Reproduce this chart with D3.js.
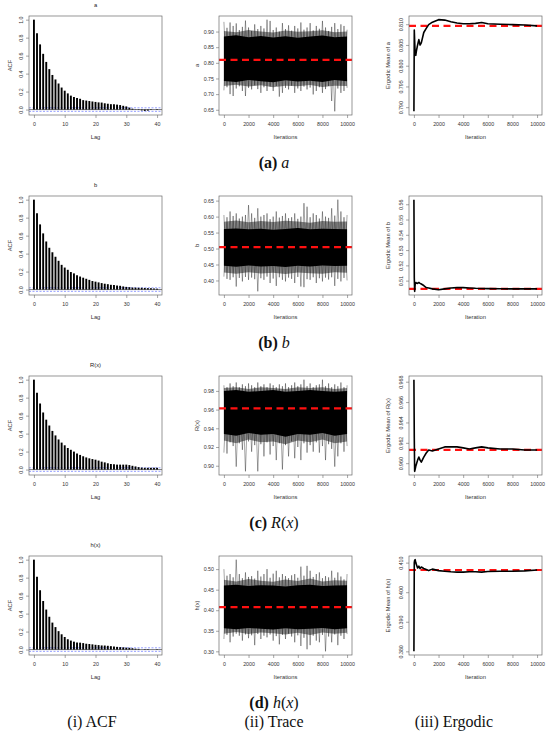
<!DOCTYPE html>
<html>
<head>
<meta charset="utf-8">
<script src="https://cdn.jsdelivr.net/npm/d3@7"></script>
<style>
  body { margin: 0; background: #fff; }
  svg { display: block; }
</style>
</head>
<body>
<div id="chart"></div>
<script>
// ---- data ----
const paramNames = ['a', 'b', 'R(x)', 'h(x)'];
const lags = d3.range(0, 41);

const acfA = [1.0, 0.85, 0.725, 0.62, 0.53, 0.45, 0.385, 0.335, 0.29, 0.245, 0.21, 0.18, 0.155, 0.14, 0.13, 0.12, 0.105, 0.10, 0.095, 0.09, 0.085,
  0.08, 0.078, 0.07, 0.065, 0.06, 0.058, 0.055, 0.05, 0.042, 0.035, 0.022, 0.01, 0.003, -0.005, -0.01, -0.015, -0.012, -0.005, 0.0, 0.005];
const acfB = [1.0, 0.85, 0.725, 0.625, 0.535, 0.465, 0.415, 0.365, 0.32, 0.275, 0.245, 0.22, 0.195, 0.18, 0.16, 0.145, 0.132, 0.12, 0.108, 0.095, 0.088,
  0.08, 0.072, 0.065, 0.06, 0.053, 0.05, 0.045, 0.042, 0.035, 0.03, 0.027, 0.023, 0.022, 0.02, 0.02, 0.018, 0.016, 0.015, 0.012, 0.01];
const acfR = [1.0, 0.855, 0.735, 0.635, 0.555, 0.49, 0.43, 0.38, 0.335, 0.3, 0.27, 0.24, 0.22, 0.2, 0.18, 0.163, 0.148, 0.135, 0.125, 0.117, 0.11,
  0.1, 0.088, 0.08, 0.07, 0.062, 0.058, 0.055, 0.055, 0.055, 0.055, 0.05, 0.042, 0.035, 0.027, 0.022, 0.02, 0.02, 0.02, 0.02, 0.02];
const acfH = [1.0, 0.81, 0.66, 0.54, 0.445, 0.365, 0.3, 0.25, 0.205, 0.17, 0.14, 0.115, 0.1, 0.088, 0.08, 0.077, 0.072, 0.065, 0.062, 0.058, 0.053,
  0.05, 0.046, 0.045, 0.042, 0.038, 0.035, 0.03, 0.027, 0.025, 0.022, 0.02, 0.015, 0.01, 0.008, 0.0, -0.005, -0.005, 0.0, 0.0, 0.004];
const acfCI = 0.0196;

// trace: extremes every 250 iterations; grey fringe and dense core every 1000
const traceIter = d3.range(0, 10001, 250);
const bandIter = d3.range(0, 10001, 1000);

const hiA = [0.931, 0.912, 0.929, 0.918, 0.926, 0.905, 0.915, 0.935, 0.913, 0.902, 0.923, 0.908, 0.918, 0.910, 0.938, 0.934, 0.905, 0.913, 0.900, 0.927,
  0.908, 0.920, 0.903, 0.918, 0.910, 0.929, 0.906, 0.913, 0.927, 0.904, 0.918, 0.909, 0.934, 0.913, 0.902, 0.915, 0.927, 0.908, 0.923, 0.918, 0.906];
const loA = [0.712, 0.722, 0.700, 0.694, 0.718, 0.725, 0.710, 0.694, 0.720, 0.715, 0.728, 0.716, 0.704, 0.722, 0.710, 0.724, 0.710, 0.726, 0.692, 0.704,
  0.720, 0.715, 0.727, 0.704, 0.718, 0.710, 0.724, 0.715, 0.721, 0.699, 0.710, 0.722, 0.704, 0.716, 0.726, 0.678, 0.645, 0.718, 0.704, 0.710, 0.720];
const fringeHiA = [0.902, 0.898, 0.905, 0.900, 0.897, 0.903, 0.899, 0.901, 0.904, 0.898, 0.900];
const fringeLoA = [0.726, 0.730, 0.724, 0.728, 0.722, 0.727, 0.725, 0.729, 0.723, 0.727, 0.726];
const coreHiA = [0.884, 0.888, 0.882, 0.886, 0.881, 0.885, 0.880, 0.884, 0.887, 0.882, 0.884];
const coreLoA = [0.742, 0.739, 0.745, 0.741, 0.738, 0.744, 0.740, 0.743, 0.739, 0.745, 0.741];

const hiB = [0.605, 0.598, 0.616, 0.602, 0.610, 0.594, 0.600, 0.605, 0.636, 0.610, 0.596, 0.626, 0.600, 0.605, 0.610, 0.592, 0.600, 0.616, 0.597, 0.602,
  0.610, 0.595, 0.598, 0.610, 0.593, 0.600, 0.642, 0.631, 0.598, 0.610, 0.605, 0.594, 0.616, 0.600, 0.596, 0.626, 0.603, 0.653, 0.616, 0.598, 0.605];
const loB = [0.412, 0.405, 0.402, 0.410, 0.381, 0.408, 0.397, 0.411, 0.402, 0.409, 0.404, 0.366, 0.407, 0.402, 0.412, 0.392, 0.406, 0.383, 0.410, 0.402,
  0.397, 0.409, 0.405, 0.392, 0.411, 0.381, 0.379, 0.404, 0.402, 0.410, 0.392, 0.407, 0.397, 0.409, 0.403, 0.410, 0.383, 0.405, 0.397, 0.408, 0.400];
const fringeHiB = [0.584, 0.588, 0.582, 0.586, 0.583, 0.587, 0.585, 0.581, 0.586, 0.584, 0.585];
const fringeLoB = [0.425, 0.421, 0.426, 0.422, 0.424, 0.420, 0.425, 0.423, 0.421, 0.426, 0.424];
const coreHiB = [0.561, 0.563, 0.560, 0.562, 0.559, 0.561, 0.564, 0.560, 0.562, 0.561, 0.560];
const coreLoB = [0.446, 0.443, 0.447, 0.444, 0.445, 0.442, 0.446, 0.444, 0.447, 0.445, 0.446];

const hiR = [0.986, 0.984, 0.988, 0.985, 0.989, 0.984, 0.987, 0.985, 0.988, 0.986, 0.984, 0.989, 0.985, 0.987, 0.984, 0.988, 0.986, 0.984, 0.987, 0.985,
  0.988, 0.984, 0.986, 0.989, 0.985, 0.987, 0.992, 0.985, 0.988, 0.984, 0.986, 0.987, 0.992, 0.985, 0.988, 0.984, 0.987, 0.985, 0.989, 0.984, 0.986];
const loR = [0.914, 0.913, 0.925, 0.921, 0.899, 0.924, 0.917, 0.894, 0.926, 0.915, 0.922, 0.894, 0.923, 0.910, 0.925, 0.912, 0.921, 0.906, 0.924, 0.896,
  0.922, 0.910, 0.926, 0.908, 0.920, 0.906, 0.924, 0.914, 0.922, 0.915, 0.925, 0.914, 0.921, 0.906, 0.923, 0.918, 0.899, 0.910, 0.924, 0.915, 0.921];
const fringeHiR = [0.983, 0.984, 0.982, 0.984, 0.983, 0.982, 0.984, 0.983, 0.984, 0.982, 0.983];
const fringeLoR = [0.927, 0.924, 0.928, 0.925, 0.926, 0.923, 0.927, 0.925, 0.928, 0.924, 0.926];
const coreHiR = [0.980, 0.981, 0.979, 0.980, 0.981, 0.979, 0.980, 0.981, 0.980, 0.979, 0.980];
const coreLoR = [0.934, 0.932, 0.935, 0.933, 0.934, 0.931, 0.934, 0.933, 0.935, 0.932, 0.934];

const hiH = [0.500, 0.484, 0.488, 0.480, 0.523, 0.488, 0.478, 0.492, 0.481, 0.483, 0.477, 0.496, 0.482, 0.488, 0.500, 0.479, 0.489, 0.496, 0.480, 0.488,
  0.483, 0.478, 0.485, 0.488, 0.479, 0.506, 0.484, 0.508, 0.496, 0.481, 0.488, 0.492, 0.478, 0.483, 0.480, 0.496, 0.479, 0.492, 0.482, 0.475, 0.488];
const loH = [0.330, 0.340, 0.322, 0.336, 0.343, 0.338, 0.326, 0.341, 0.332, 0.339, 0.315, 0.342, 0.330, 0.338, 0.334, 0.341, 0.326, 0.337, 0.317, 0.340,
  0.330, 0.343, 0.336, 0.322, 0.339, 0.313, 0.333, 0.305, 0.315, 0.338, 0.326, 0.322, 0.340, 0.300, 0.336, 0.322, 0.341, 0.315, 0.338, 0.330, 0.342];
const fringeHiH = [0.474, 0.470, 0.476, 0.472, 0.469, 0.475, 0.471, 0.477, 0.470, 0.473, 0.472];
const fringeLoH = [0.343, 0.347, 0.342, 0.346, 0.344, 0.341, 0.345, 0.340, 0.346, 0.343, 0.345];
const coreHiH = [0.460, 0.462, 0.459, 0.461, 0.460, 0.458, 0.461, 0.462, 0.459, 0.460, 0.461];
const coreLoH = [0.356, 0.354, 0.357, 0.355, 0.353, 0.356, 0.354, 0.355, 0.357, 0.354, 0.356];

// posterior means (red dashed lines)
const means = [0.8096, 0.5046, 0.9613, 0.4075];

// ergodic (running) means
const ergoIter = [1, 30, 60, 100, 150, 200, 300, 400, 500, 600, 800, 1000, 1200, 1500, 2000, 2500, 3000, 3500, 4000, 4500, 5000, 5500, 6000, 7000, 8000, 9000, 10000];
const ergoA = [0.789, 0.8086, 0.806, 0.803, 0.8025, 0.8035, 0.805, 0.8063, 0.805, 0.8055, 0.808, 0.809, 0.8099, 0.8105, 0.8111, 0.8110, 0.8106,
  0.8103, 0.8101, 0.8101, 0.8102, 0.8104, 0.8101, 0.8100, 0.8099, 0.8098, 0.8096];
const ergoB = [0.563, 0.512, 0.503, 0.5075, 0.5088, 0.5085, 0.5082, 0.5088, 0.5082, 0.5078, 0.5068, 0.5055, 0.5052, 0.5046, 0.5040, 0.5046, 0.5052,
  0.5054, 0.5054, 0.5052, 0.5050, 0.5049, 0.5048, 0.5047, 0.5046, 0.5046, 0.5046];
const ergoR = [0.9682, 0.9625, 0.9592, 0.9594, 0.9597, 0.9599, 0.9603, 0.9606, 0.9603, 0.9601, 0.9606, 0.9610, 0.9613, 0.9612, 0.9614, 0.9616,
  0.9616, 0.9616, 0.9615, 0.9614, 0.9615, 0.9616, 0.9615, 0.9614, 0.9614, 0.9613, 0.9613];
const ergoH = [0.380, 0.4100, 0.4108, 0.4110, 0.4100, 0.4094, 0.4082, 0.4088, 0.4080, 0.4085, 0.4080, 0.4077, 0.4073, 0.4078, 0.4073, 0.4071,
  0.4069, 0.4068, 0.4068, 0.4069, 0.4069, 0.4068, 0.4070, 0.4071, 0.4071, 0.4072, 0.4075];

// tick values
const acfXTicks = [0, 10, 20, 30, 40];
const acfYTicks = [0, 0.2, 0.4, 0.6, 0.8, 1.0];
const iterTicks = [0, 2000, 4000, 6000, 8000, 10000];
const traceYTicks = [
  [0.65, 0.70, 0.75, 0.80, 0.85, 0.90],
  [0.40, 0.45, 0.50, 0.55, 0.60, 0.65],
  [0.90, 0.92, 0.94, 0.96, 0.98],
  [0.30, 0.35, 0.40, 0.45, 0.50]
];
const ergoYTicks = [
  [0.790, 0.795, 0.800, 0.805, 0.810],
  [0.51, 0.52, 0.53, 0.54, 0.55, 0.56],
  [0.960, 0.962, 0.964, 0.966, 0.968],
  [0.380, 0.390, 0.400, 0.410]
];
const ergoYFmt = ['.3f', '.2f', '.3f', '.3f'];

const captionLetters = ['a', 'b', 'c', 'd'];
const columnLabels = [['i', 'ACF'], ['ii', 'Trace'], ['iii', 'Ergodic']];

// ---- layout ----
const width = 550, height = 733;
const rowH = 180;
const boxY = [16, 115];
const colX = { acf: [29, 162], trace: [219, 352], ergo: [409, 542] };
const sans = '"Liberation Sans", Arial, sans-serif';
const serif = '"Liberation Serif", "DejaVu Serif", serif';
const tickFont = 5.3, titleFont = 5.8;
const inkColor = '#333333', frameColor = '#6a6a6a';

const svg = d3.select('#chart').append('svg')
  .attr('width', width).attr('height', height);

const padExtent = ext => {
  const r = ext[1] - ext[0];
  return [ext[0] - 0.04 * r, ext[1] + 0.04 * r];
};

function drawFrame(g, x, y, opt) {
  const [x0, x1] = x.range();
  const [yb, yt] = y.range();

  const xa = g.append('g')
    .attr('transform', `translate(0,${yb})`)
    .call(d3.axisBottom(x).tickValues(opt.xTicks).tickFormat(d3.format('d')).tickSize(3).tickPadding(4.5));
  const ya = g.append('g')
    .attr('transform', `translate(${x0},0)`)
    .call(d3.axisLeft(y).tickValues(opt.yTicks).tickFormat(d3.format(opt.yFmt)).tickSize(3).tickPadding(2));

  [xa, ya].forEach(a => {
    a.select('.domain').remove();
    a.attr('font-size', tickFont).attr('font-family', sans).attr('color', frameColor);
    a.selectAll('line').attr('stroke-width', 0.6);
    a.selectAll('text').attr('fill', inkColor);
  });
  if (opt.rotateY) {
    ya.selectAll('text')
      .attr('transform', 'rotate(-90)')
      .attr('x', 0).attr('y', -6.5).attr('dy', 0)
      .attr('text-anchor', 'middle');
  }

  g.append('rect')
    .attr('x', x0).attr('y', yt)
    .attr('width', x1 - x0).attr('height', yb - yt)
    .attr('fill', 'none').attr('stroke', frameColor).attr('stroke-width', 0.7);

  g.append('text')
    .attr('x', (x0 + x1) / 2).attr('y', yb + 24)
    .attr('text-anchor', 'middle')
    .attr('font-family', sans).attr('font-size', titleFont).attr('fill', inkColor)
    .text(opt.xTitle);

  g.append('text')
    .attr('transform', `translate(${x0 - opt.yTitleGap},${(yt + yb) / 2}) rotate(-90)`)
    .attr('text-anchor', 'middle')
    .attr('dy', '0.35em')
    .attr('font-family', sans).attr('font-size', titleFont).attr('fill', inkColor)
    .text(opt.yTitle);
}

function clipFor(g, id, x, y) {
  const [x0, x1] = x.range();
  const [yb, yt] = y.range();
  g.append('clipPath').attr('id', id)
    .append('rect').attr('x', x0).attr('y', yt).attr('width', x1 - x0).attr('height', yb - yt);
  return `url(#${id})`;
}

// ---- ACF column ----
function drawAcf(row, acf) {
  const g = svg.append('g').attr('transform', `translate(0,${row * rowH})`);
  const x = d3.scaleLinear().domain(padExtent([0, 40])).range(colX.acf);
  const y = d3.scaleLinear()
    .domain(padExtent([Math.min(d3.min(acf), -acfCI), d3.max(acf)]))
    .range([boxY[1], boxY[0]]);

  g.append('line')
    .attr('x1', colX.acf[0]).attr('x2', colX.acf[1])
    .attr('y1', y(0)).attr('y2', y(0))
    .attr('stroke', '#222').attr('stroke-width', 0.6);

  g.selectAll('.ci')
    .data([acfCI, -acfCI])
    .join('line')
    .attr('class', 'ci')
    .attr('x1', colX.acf[0]).attr('x2', colX.acf[1])
    .attr('y1', d => y(d)).attr('y2', d => y(d))
    .attr('stroke', '#4c5cff').attr('stroke-width', 0.6)
    .attr('stroke-dasharray', '2,1.5');

  g.selectAll('.bar')
    .data(acf)
    .join('line')
    .attr('class', 'bar')
    .attr('x1', (d, i) => x(lags[i])).attr('x2', (d, i) => x(lags[i]))
    .attr('y1', y(0)).attr('y2', d => y(d))
    .attr('stroke', '#000').attr('stroke-width', 1.9);

  drawFrame(g, x, y, {
    xTicks: acfXTicks, yTicks: acfYTicks, yFmt: '.1f', rotateY: true,
    xTitle: 'Lag', yTitle: 'ACF', yTitleGap: 19
  });

  g.append('text')
    .attr('x', (colX.acf[0] + colX.acf[1]) / 2).attr('y', 7)
    .attr('text-anchor', 'middle')
    .attr('font-family', sans).attr('font-size', titleFont).attr('fill', '#222')
    .text(paramNames[row]);
}

// ---- trace column ----
function drawTrace(row, t) {
  const g = svg.append('g').attr('transform', `translate(0,${row * rowH})`);
  const x = d3.scaleLinear().domain(padExtent([1, 10000])).range(colX.trace);
  const y = d3.scaleLinear()
    .domain(padExtent([d3.min(t.lo), d3.max(t.hi)]))
    .range([boxY[1], boxY[0]]);
  const clip = clipFor(g, `clip-trace-${row}`, x, y);

  const bandArea = lo => d3.area()
    .x((d, i) => x(bandIter[i]))
    .y0((d, i) => y(lo[i]))
    .y1(d => y(d));

  // soft grey fringe underneath the spikes
  g.append('path')
    .datum(t.fHi)
    .attr('d', bandArea(t.fLo))
    .attr('fill', '#000')
    .attr('fill-opacity', 0.45)
    .attr('clip-path', clip);

  const zig = d3.line().x(d => x(d[0])).y(d => y(d[1]));
  // two interleaved zigzags through the read-off extremes
  [0, 1].forEach(parity => {
    const pts = traceIter.map((it, i) => [it, (i + parity) % 2 === 0 ? t.hi[i] : t.lo[i]]);
    g.append('path')
      .datum(pts)
      .attr('d', zig)
      .attr('fill', 'none')
      .attr('stroke', '#000')
      .attr('stroke-width', 0.5)
      .attr('stroke-opacity', 0.7)
      .attr('clip-path', clip);
  });

  // solid dense core
  g.append('path')
    .datum(t.cHi)
    .attr('d', bandArea(t.cLo))
    .attr('fill', '#000')
    .attr('clip-path', clip);

  g.append('line')
    .attr('x1', colX.trace[0]).attr('x2', colX.trace[1])
    .attr('y1', y(means[row])).attr('y2', y(means[row]))
    .attr('stroke', '#ff1010').attr('stroke-width', 2.2)
    .attr('stroke-dasharray', '7,4.5');

  drawFrame(g, x, y, {
    xTicks: iterTicks, yTicks: traceYTicks[row], yFmt: '.2f', rotateY: false,
    xTitle: 'Iterations', yTitle: paramNames[row], yTitleGap: 22
  });
}

// ---- ergodic column ----
function drawErgodic(row, vals) {
  const g = svg.append('g').attr('transform', `translate(0,${row * rowH})`);
  const x = d3.scaleLinear().domain(padExtent([1, 10000])).range(colX.ergo);
  const y = d3.scaleLinear()
    .domain(padExtent(d3.extent(vals)))
    .range([boxY[1], boxY[0]]);

  g.append('line')
    .attr('x1', colX.ergo[0]).attr('x2', colX.ergo[1])
    .attr('y1', y(means[row])).attr('y2', y(means[row]))
    .attr('stroke', '#ff1010').attr('stroke-width', 2.2)
    .attr('stroke-dasharray', '7,4.5');

  const line = d3.line()
    .x((d, i) => x(ergoIter[i]))
    .y(d => y(d));
  g.append('path')
    .datum(vals)
    .attr('d', line)
    .attr('fill', 'none')
    .attr('stroke', '#000')
    .attr('stroke-width', 1.6)
    .attr('stroke-linejoin', 'round');

  drawFrame(g, x, y, {
    xTicks: iterTicks, yTicks: ergoYTicks[row], yFmt: ergoYFmt[row], rotateY: true,
    xTitle: 'Iteration', yTitle: `Ergodic Mean of ${paramNames[row]}`, yTitleGap: 21
  });
}

const acfs = [acfA, acfB, acfR, acfH];
const traces = [
  { hi: hiA, lo: loA, fHi: fringeHiA, fLo: fringeLoA, cHi: coreHiA, cLo: coreLoA },
  { hi: hiB, lo: loB, fHi: fringeHiB, fLo: fringeLoB, cHi: coreHiB, cLo: coreLoB },
  { hi: hiR, lo: loR, fHi: fringeHiR, fLo: fringeLoR, cHi: coreHiR, cLo: coreLoR },
  { hi: hiH, lo: loH, fHi: fringeHiH, fLo: fringeLoH, cHi: coreHiH, cLo: coreLoH }
];
const ergos = [ergoA, ergoB, ergoR, ergoH];

d3.range(4).forEach(r => {
  drawAcf(r, acfs[r]);
  drawTrace(r, traces[r]);
  drawErgodic(r, ergos[r]);
});

// ---- sub-captions ----
const capFont = 16;
function caption(y, letter, parts) {
  const t = svg.append('text')
    .attr('x', 274).attr('y', y)
    .attr('text-anchor', 'middle')
    .attr('font-family', serif).attr('font-size', capFont).attr('fill', '#111');
  t.append('tspan').attr('font-weight', 'bold').text(`(${letter})`);
  t.append('tspan').text(' ');
  parts.forEach(p => t.append('tspan').attr('font-style', p[1] ? 'italic' : 'normal').text(p[0]));
}
const captionParts = [
  [['a', true]],
  [['b', true]],
  [['R', true], ['(', false], ['x', true], [')', false]],
  [['h', true], ['(', false], ['x', true], [')', false]]
];
captionLetters.forEach((l, r) => caption(r * rowH + 168, l, captionParts[r]));

const colCenters = [92, 274, 454];
columnLabels.forEach((c, i) => {
  svg.append('text')
    .attr('x', colCenters[i]).attr('y', 727)
    .attr('text-anchor', 'middle')
    .attr('font-family', serif).attr('font-size', capFont).attr('fill', '#111')
    .text(`(${c[0]}) ${c[1]}`);
});
</script>
</body>
</html>
